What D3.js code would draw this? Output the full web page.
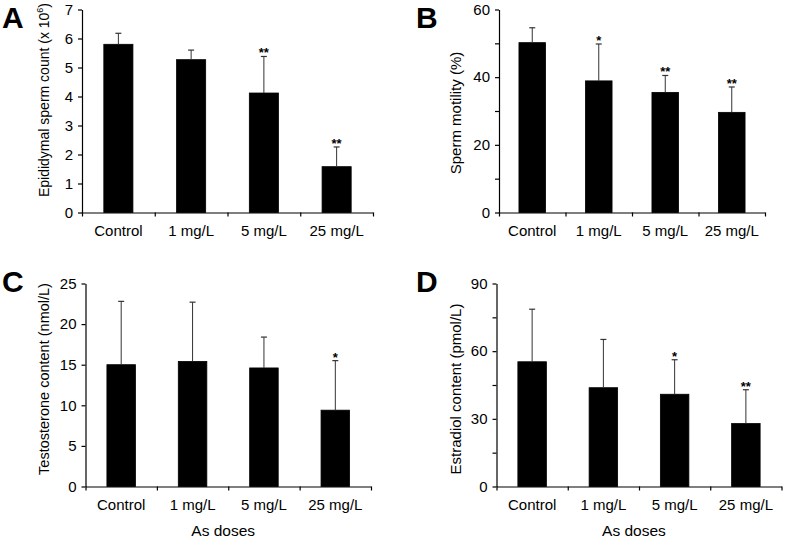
<!DOCTYPE html>
<html>
<head>
<meta charset="utf-8">
<script src="https://cdn.jsdelivr.net/npm/d3@7"></script>
<style>
  body { margin: 0; background: #fff; }
  text { font-family: "Liberation Sans", Arial, sans-serif; fill: #000; }
</style>
</head>
<body>
<svg id="chart" width="787" height="540"></svg>
<script>
// Groups on the x axis
var doses = ["Control", "1 mg/L", "5 mg/L", "25 mg/L"];

// A: epididymal sperm count (x 10^6)
var spermCount = [5.8, 5.27, 4.12, 1.58];
var spermCountSD = [0.38, 0.33, 1.26, 0.68];
var spermCountSig = ["", "", "**", "**"];

// B: sperm motility (%)
var motility = [50.2, 38.9, 35.5, 29.6];
var motilitySD = [4.4, 10.9, 5.0, 7.5];
var motilitySig = ["", "*", "**", "**"];

// C: testosterone (nmol/L)
var testosterone = [15.0, 15.4, 14.6, 9.4];
var testosteroneSD = [7.8, 7.3, 3.8, 6.1];
var testosteroneSig = ["", "", "", "*"];

// D: estradiol (pmol/L)
var estradiol = [55.3, 43.8, 40.9, 27.9];
var estradiolSD = [23.3, 21.4, 15.3, 15.0];
var estradiolSig = ["", "", "*", "**"];

var svg = d3.select("#chart");

var panels = [
  {letter: "A", mean: spermCount, sd: spermCountSD, sig: spermCountSig,
   max: 7, step: 1, labelStep: 1, ylabel: "Epididymal sperm count (x 10", sup: "6", lsize: 14,
   left: 82, right: 373, top: 9.5, bottom: 212.5, lx: 49, ly: 100, lettX: 2, lettY: 27.5, xtitle: null},
  {letter: "B", mean: motility, sd: motilitySD, sig: motilitySig,
   max: 60, step: 10, labelStep: 20, ylabel: "Sperm motility (%)", sup: null, lsize: 15,
   left: 499, right: 765, top: 9.5, bottom: 212.5, lx: 461, ly: 113, lettX: 416, lettY: 27.5, xtitle: null},
  {letter: "C", mean: testosterone, sd: testosteroneSD, sig: testosteroneSig,
   max: 25, step: 5, labelStep: 5, ylabel: "Testosterone content (nmol/L)", sup: null, lsize: 14.5,
   left: 85.5, right: 371, top: 283.5, bottom: 486.5, lx: 49, ly: 379, lettX: 2, lettY: 292, xtitle: "As doses"},
  {letter: "D", mean: estradiol, sd: estradiolSD, sig: estradiolSig,
   max: 90, step: 15, labelStep: 30, ylabel: "Estradiol content (pmol/L)", sup: null, lsize: 15,
   left: 496.5, right: 781.5, top: 283.5, bottom: 486.5, lx: 461, ly: 389, lettX: 416, lettY: 292, xtitle: "As doses"}
];

panels.forEach(function(p) {
  var g = svg.append("g");

  var x = d3.scaleBand()
    .domain(doses)
    .range([p.left, p.right])
    .paddingInner(0.6)
    .paddingOuter(0.3);

  var y = d3.scaleLinear()
    .domain([0, p.max])
    .range([p.bottom, p.top]);

  // Bars
  g.selectAll(".bar")
    .data(doses)
    .enter()
    .append("rect")
      .attr("x", function(d) { return x(d); })
      .attr("y", function(d, i) { return y(p.mean[i]); })
      .attr("width", x.bandwidth())
      .attr("height", function(d, i) { return y(0) - y(p.mean[i]); })
      .attr("fill", "#000")
      .attr("stroke", "#000")
      .attr("stroke-width", 0.8);

  // Error bars (upper only)
  var cx = function(d) { return x(d) + x.bandwidth() / 2; };
  g.selectAll(".err")
    .data(doses)
    .enter()
    .append("line")
      .attr("x1", cx).attr("x2", cx)
      .attr("y1", function(d, i) { return y(p.mean[i]); })
      .attr("y2", function(d, i) { return y(p.mean[i] + p.sd[i]); })
      .attr("stroke", "#333")
      .attr("stroke-width", 1);
  g.selectAll(".cap")
    .data(doses)
    .enter()
    .append("line")
      .attr("x1", function(d) { return cx(d) - 3; })
      .attr("x2", function(d) { return cx(d) + 3; })
      .attr("y1", function(d, i) { return y(p.mean[i] + p.sd[i]); })
      .attr("y2", function(d, i) { return y(p.mean[i] + p.sd[i]); })
      .attr("stroke", "#333")
      .attr("stroke-width", 1.2);

  // Significance stars
  g.selectAll(".sig")
    .data(doses)
    .enter()
    .append("text")
      .attr("x", cx)
      .attr("y", function(d, i) { return y(p.mean[i] + p.sd[i]) + 1; })
      .attr("text-anchor", "middle")
      .attr("font-size", "13px")
      .attr("font-weight", 700)
      .text(function(d, i) { return p.sig[i]; });

  // Y axis
  var yAxis = g.append("g")
    .attr("transform", "translate(" + p.left + ",0)")
    .call(d3.axisLeft(y)
      .tickValues(d3.range(0, p.max + p.step / 2, p.step))
      .tickSize(4)
      .tickSizeOuter(0)
      .tickPadding(5)
      .tickFormat(function(d) { return d % p.labelStep === 0 ? d : ""; }));
  yAxis.selectAll("text").attr("font-size", "15px").style("font-family", null);

  // X axis: labels at band centres
  var xAxis = g.append("g")
    .attr("transform", "translate(0," + p.bottom + ")")
    .call(d3.axisBottom(x).tickSize(0).tickPadding(13));
  xAxis.select(".domain").remove();
  xAxis.selectAll("text").attr("font-size", "15px").style("font-family", null);

  // X axis line with ticks between groups
  var bounds = d3.scaleLinear().domain([0, doses.length]).range([p.left, p.right]);
  g.append("g")
    .attr("transform", "translate(0," + p.bottom + ")")
    .call(d3.axisBottom(bounds)
      .tickValues(d3.range(0, doses.length + 1))
      .tickFormat("")
      .tickSize(4)
      .tickSizeOuter(0));

  g.selectAll(".domain, .tick line").attr("stroke", "#000").attr("stroke-width", 1.2);

  // Y axis title
  var yl = g.append("text")
    .attr("transform", "translate(" + p.lx + "," + p.ly + ")rotate(-90)")
    .attr("text-anchor", "middle")
    .attr("font-size", p.lsize + "px")
    .text(p.ylabel);
  if (p.sup) {
    yl.append("tspan").attr("font-size", "9px").attr("dy", "-6").text(p.sup);
    yl.append("tspan").attr("dy", "6").text(")");
  }

  // Panel letter
  g.append("text")
    .attr("x", p.lettX)
    .attr("y", p.lettY)
    .attr("font-size", "30px")
    .attr("font-weight", 700)
    .text(p.letter);

  // X axis title
  if (p.xtitle) {
    g.append("text")
      .attr("x", (p.left + p.right) / 2 - 5)
      .attr("y", 536)
      .attr("text-anchor", "middle")
      .attr("font-size", "15.5px")
      .text(p.xtitle);
  }
});
</script>
</body>
</html>
